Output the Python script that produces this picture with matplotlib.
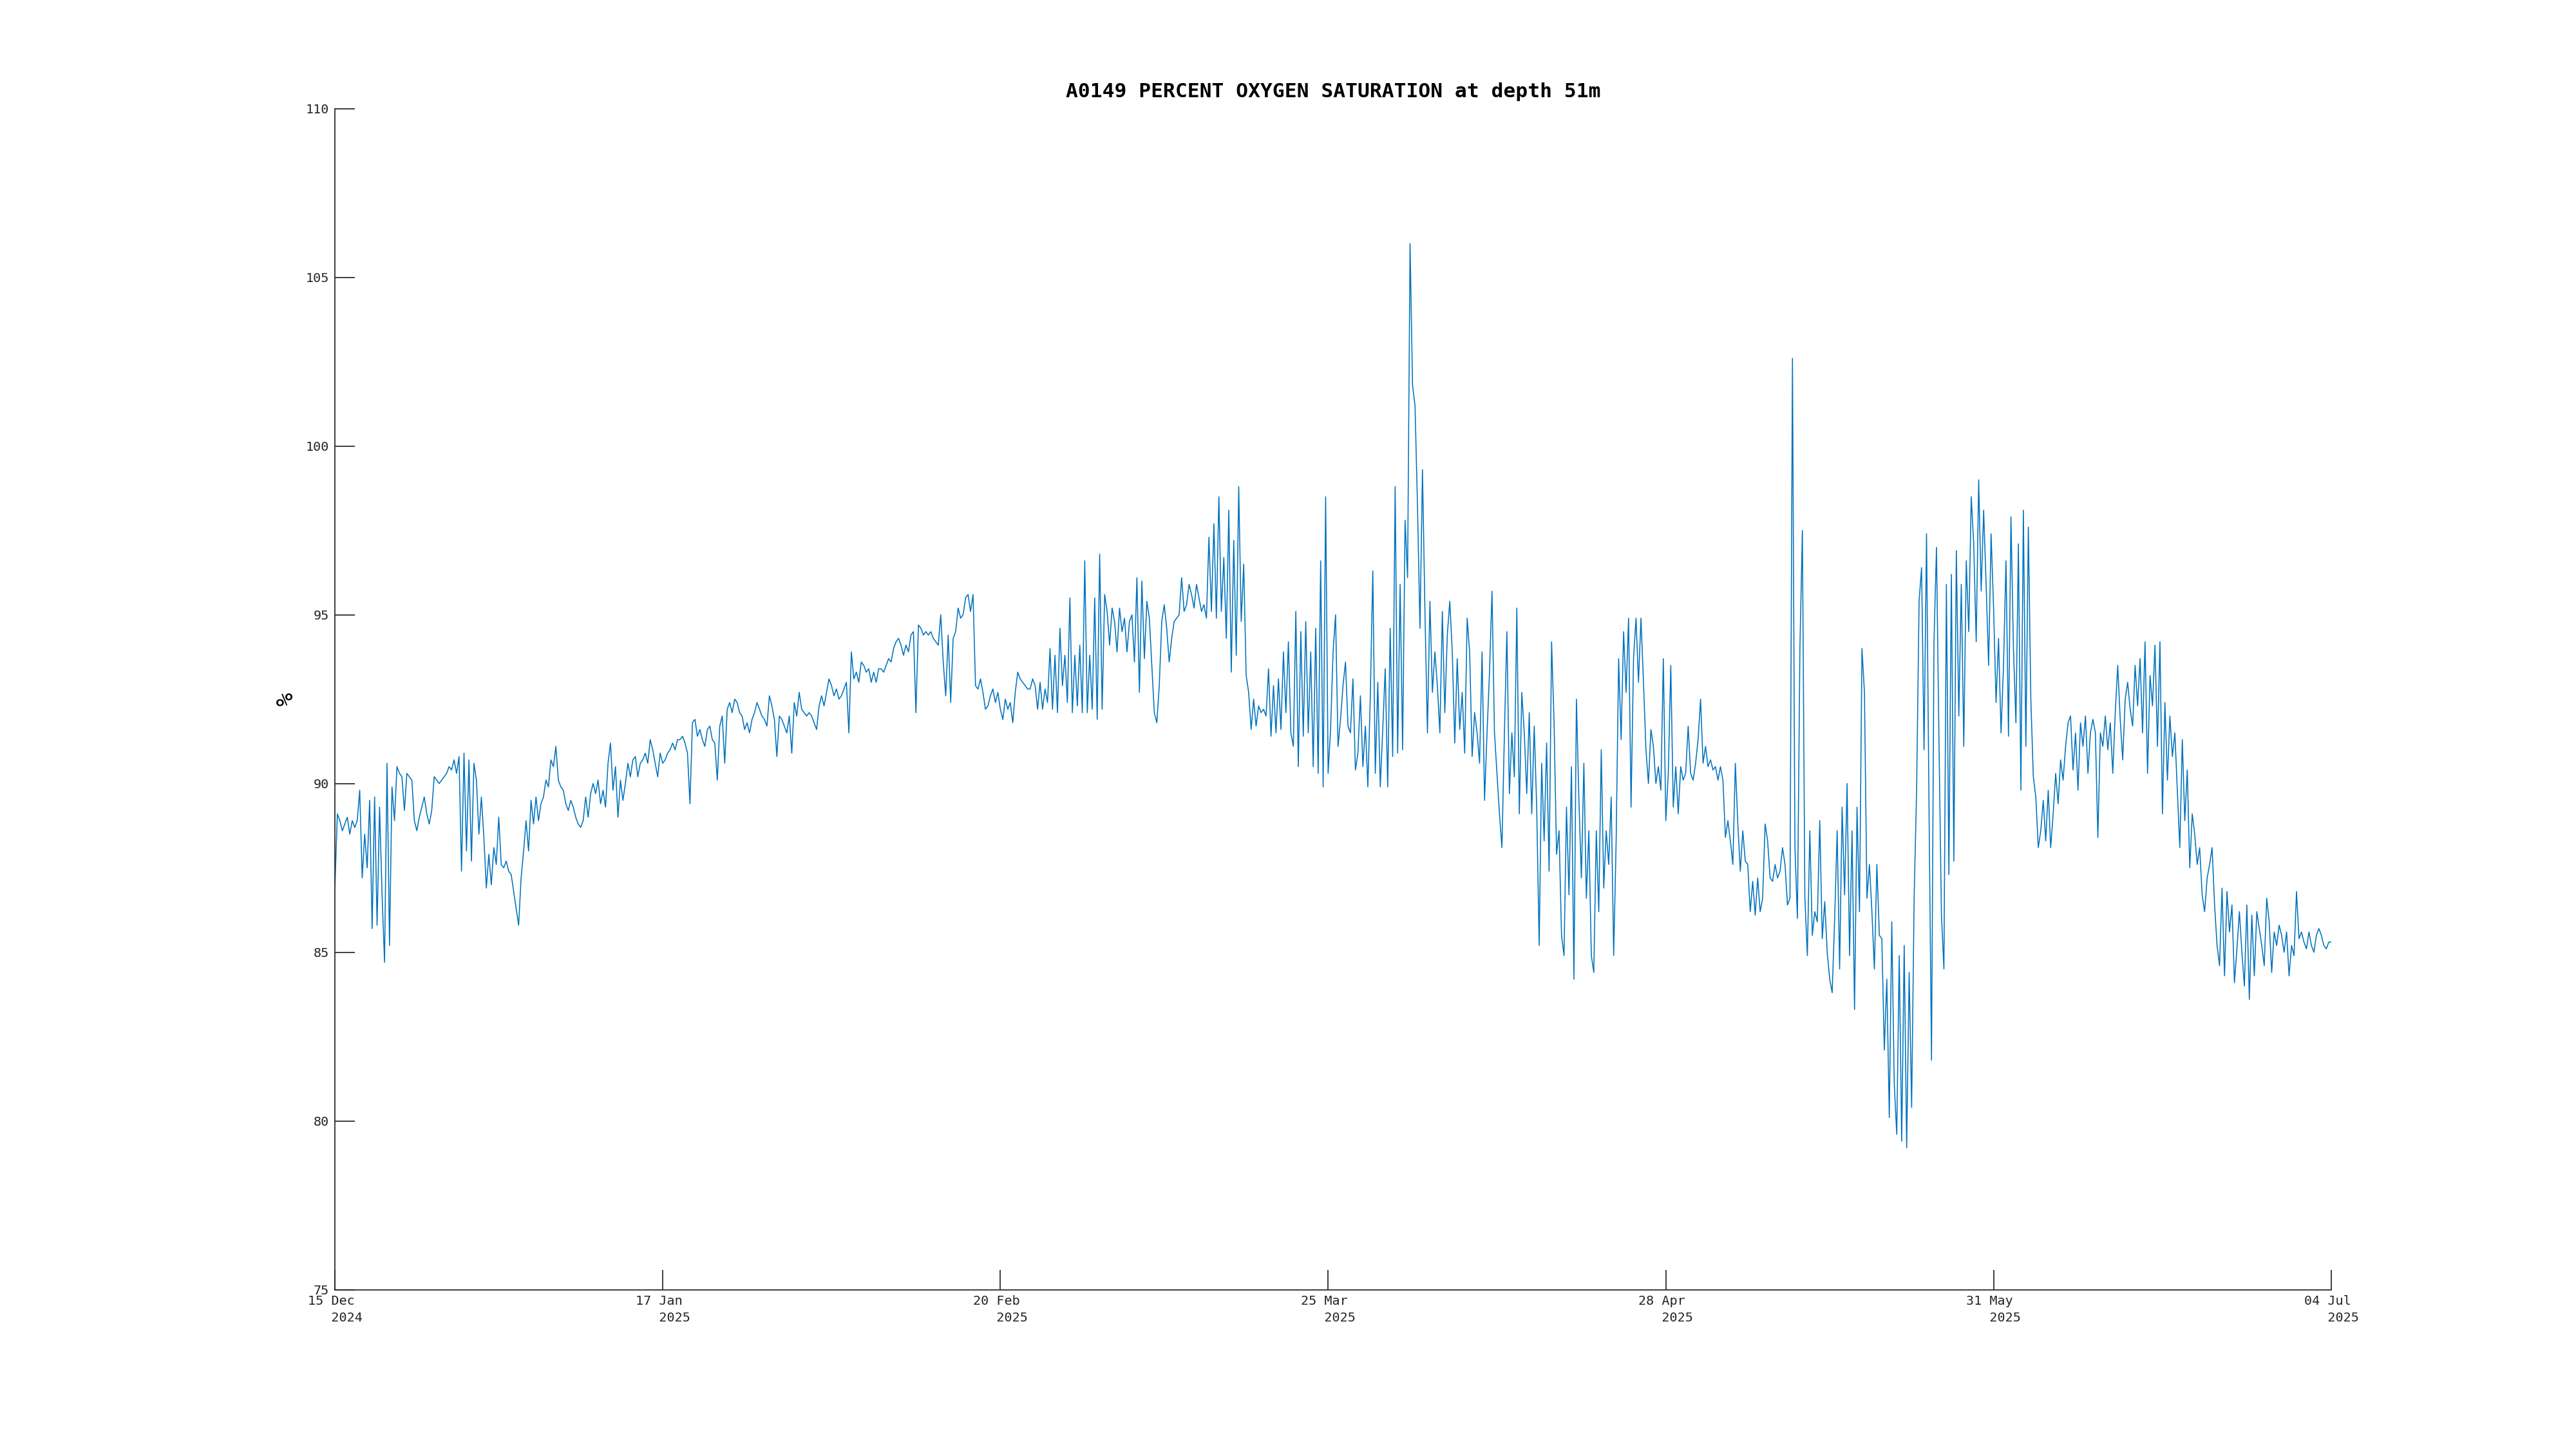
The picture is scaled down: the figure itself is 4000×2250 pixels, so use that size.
import numpy as np
import pandas as pd
import matplotlib
matplotlib.use("Agg")
import matplotlib.pyplot as plt

# percent oxygen saturation at 6-hourly steps from 15 Dec 2024 00:00
dec_vals = [
    86.9, 89.1, 88.9, 88.6, 88.8, 89.0, 88.5, 88.9, 88.7, 88.9, 89.8, 87.2,
    88.5, 87.5, 89.5, 85.7, 89.6, 85.8, 89.3, 86.7, 84.7, 90.6, 85.2, 89.9,
    88.9, 90.5, 90.3, 90.2, 89.2, 90.3, 90.2, 90.1, 88.9, 88.6, 89.0, 89.3,
    89.6, 89.1, 88.8, 89.2, 90.2, 90.1, 90.0, 90.1, 90.2, 90.3, 90.5, 90.4,
    90.7, 90.3, 90.8, 87.4, 90.9, 88.0, 90.7, 87.7, 90.6, 90.1, 88.5, 89.6,
    88.4, 86.9, 87.9, 87.0, 88.1, 87.6, 89.0, 87.6,
]
jan_vals = [
    87.5, 87.7, 87.4, 87.3, 86.8, 86.3, 85.8, 87.2, 88.0, 88.9, 88.0, 89.5,
    88.8, 89.6, 88.9, 89.4, 89.6, 90.1, 89.9, 90.7, 90.5, 91.1, 90.1, 89.9,
    89.8, 89.4, 89.2, 89.5, 89.3, 89.0, 88.8, 88.7, 88.9, 89.6, 89.0, 89.7,
    90.0, 89.7, 90.1, 89.4, 89.8, 89.3, 90.6, 91.2, 89.8, 90.5, 89.0, 90.1,
    89.5, 90.0, 90.6, 90.2, 90.7, 90.8, 90.2, 90.6, 90.7, 90.9, 90.6, 91.3,
    91.0, 90.6, 90.2, 90.9, 90.6, 90.7, 90.9, 91.0, 91.2, 91.0, 91.3, 91.3,
    91.4, 91.2, 90.9, 89.4, 91.8, 91.9, 91.4, 91.6, 91.3, 91.1, 91.6, 91.7,
    91.3, 91.2, 90.1, 91.7, 92.0, 90.6, 92.2, 92.4, 92.1, 92.5, 92.4, 92.1,
    92.0, 91.6, 91.8, 91.5, 91.9, 92.1, 92.4, 92.2, 92.0, 91.9, 91.7, 92.6,
    92.3, 91.9, 90.8, 92.0, 91.9, 91.7, 91.5, 92.0, 90.9, 92.4, 92.0, 92.7,
    92.2, 92.1, 92.0, 92.1,
]
feb_vals = [
    92.0, 91.8, 91.6, 92.3, 92.6, 92.3, 92.7, 93.1, 92.9, 92.6, 92.8, 92.5,
    92.6, 92.8, 93.0, 91.5, 93.9, 93.1, 93.3, 93.0, 93.6, 93.5, 93.3, 93.4,
    93.0, 93.3, 93.0, 93.4, 93.4, 93.3, 93.5, 93.7, 93.6, 94.0, 94.2, 94.3,
    94.1, 93.8, 94.1, 93.9, 94.4, 94.5, 92.1, 94.7, 94.6, 94.4, 94.5, 94.4,
    94.5, 94.3, 94.2, 94.1, 95.0, 93.6, 92.6, 94.4, 92.4, 94.3, 94.5, 95.2,
    94.9, 95.0, 95.5, 95.6, 95.1, 95.6, 92.9, 92.8, 93.1, 92.7, 92.2, 92.3,
    92.6, 92.8, 92.4, 92.7, 92.2, 91.9, 92.5, 92.2, 92.4, 91.8, 92.7, 93.3,
    93.1, 93.0, 92.9, 92.8, 92.8, 93.1, 92.9, 92.2, 93.0, 92.2, 92.8, 92.4,
    94.0, 92.2, 93.8, 92.1, 94.6, 92.9, 93.8, 92.4, 95.5, 92.1, 93.8, 92.3,
    94.1, 92.1, 96.6, 92.1,
]
mar_vals = [
    93.8, 92.2, 95.5, 91.9, 96.8, 92.2, 95.6, 95.1, 94.1, 95.2, 94.8, 93.9,
    95.2, 94.5, 94.9, 93.9, 94.8, 95.0, 93.6, 96.1, 92.7, 96.0, 93.7, 95.4,
    94.9, 93.5, 92.1, 91.8, 92.9, 94.8, 95.3, 94.6, 93.6, 94.3, 94.8, 94.9,
    95.0, 96.1, 95.1, 95.3, 95.9, 95.6, 95.2, 95.9, 95.5, 95.1, 95.3, 94.9,
    97.3, 95.1, 97.7, 94.9, 98.5, 95.1, 96.7, 94.3, 98.1, 93.3, 97.2, 93.8,
    98.8, 94.8, 96.5, 93.2, 92.7, 91.6, 92.5, 91.7, 92.3, 92.1, 92.2, 92.0,
    93.4, 91.4, 92.9, 91.5, 93.1, 91.6, 93.9, 92.1, 94.2, 91.5, 91.1, 95.1,
    90.5, 94.5, 91.4, 94.8, 91.5, 93.9, 90.5, 94.6, 90.3, 96.6, 89.9, 98.5,
    90.3, 91.6, 93.9, 95.0, 91.1, 91.9, 92.9, 93.6, 91.7, 91.5, 93.1, 90.4,
    90.9, 92.6, 90.5, 91.7, 89.9, 92.6, 96.3, 90.3, 93.0, 89.9, 91.6, 93.4,
    89.9, 94.6, 90.8, 98.8,
]
apr_vals = [
    90.9, 95.9, 91.0, 97.8, 96.1, 106.0, 101.8, 101.2, 98.2, 94.6, 99.3, 95.1,
    91.5, 95.4, 92.7, 93.9, 92.9, 91.5, 95.1, 92.1, 94.4, 95.4, 93.9, 91.2,
    93.7, 91.6, 92.7, 90.9, 94.9, 93.9, 90.8, 92.1, 91.5, 90.6, 93.9, 89.5,
    91.5, 93.3, 95.7, 91.5, 90.3, 89.1, 88.1, 91.5, 94.5, 89.7, 91.5, 90.2,
    95.2, 89.1, 92.7, 91.5, 89.7, 92.1, 89.1, 91.7, 89.3, 85.2, 90.6, 88.3,
    91.2, 87.4, 94.2, 91.8, 87.9, 88.6, 85.5, 84.9, 89.3, 86.7, 90.5, 84.2,
    92.5, 89.5, 87.2, 90.6, 86.6, 88.6, 84.9, 84.4, 88.6, 86.2, 91.0, 86.9,
    88.6, 87.6, 89.6, 84.9, 88.3, 93.7, 91.3, 94.5, 92.7, 94.9, 89.3, 93.7,
    94.9, 93.0, 94.9, 93.0, 91.0, 90.0, 91.6, 91.1, 90.0, 90.5, 89.8, 93.7,
    88.9, 90.3, 93.5, 89.3, 90.5, 89.1, 90.5, 90.1, 90.3, 91.7, 90.3, 90.1,
]
may_vals = [
    90.6, 91.3, 92.5, 90.6, 91.1, 90.5, 90.7, 90.4, 90.5, 90.1, 90.5, 90.1,
    88.4, 88.9, 88.3, 87.6, 90.6, 88.8, 87.4, 88.6, 87.7, 87.6, 86.2, 87.1,
    86.1, 87.2, 86.2, 86.6, 88.8, 88.3, 87.2, 87.1, 87.6, 87.2, 87.4, 88.1,
    87.6, 86.4, 86.6, 102.6, 88.1, 86.0, 94.0, 97.5, 86.6, 84.9, 88.6, 85.5,
    86.2, 85.9, 88.9, 85.4, 86.5, 85.0, 84.2, 83.8, 86.0, 88.6, 84.5, 89.3,
    86.7, 90.0, 84.9, 88.6, 83.3, 89.3, 86.2, 94.0, 92.7, 86.6, 87.6, 86.2,
    84.5, 87.6, 85.5, 85.4, 82.1, 84.2, 80.1, 85.9, 81.1, 79.6, 84.9, 79.4,
    85.2, 79.2, 84.4, 80.4, 86.6, 89.8, 95.4, 96.4, 91.0, 97.4, 89.3, 81.8,
    94.2, 97.0, 91.3, 86.1, 84.5, 95.9, 87.3, 96.2, 87.7, 96.9, 92.0, 95.9,
    91.1, 96.6, 94.5, 98.5, 97.1, 94.2, 99.0, 95.7, 98.1, 95.9, 93.5, 97.4,
    95.2, 92.4, 94.3, 91.5,
]
jun_vals = [
    93.5, 96.6, 91.4, 97.9, 94.0, 91.8, 97.1, 89.8, 98.1, 91.1, 97.6, 92.5,
    90.2, 89.6, 88.1, 88.6, 89.5, 88.3, 89.8, 88.1, 89.1, 90.3, 89.4, 90.7,
    90.1, 91.1, 91.8, 92.0, 90.4, 91.5, 89.8, 91.8, 91.1, 92.0, 90.3, 91.5,
    91.9, 91.5, 88.4, 91.5, 91.1, 92.0, 91.0, 91.8, 90.3, 92.1, 93.5, 91.9,
    90.7, 92.5, 93.0, 92.2, 91.7, 93.5, 92.3, 93.7, 91.5, 94.2, 90.3, 93.2,
    92.3, 94.1, 91.1, 94.2, 89.1, 92.4, 90.1, 92.0, 90.8, 91.5, 89.8, 88.1,
    91.3, 88.9, 90.4, 87.5, 89.1, 88.5, 87.6, 88.1, 86.7, 86.2, 87.2, 87.6,
    88.1, 86.4, 85.2, 84.6, 86.9, 84.3, 86.8, 85.6, 86.4, 84.1, 85.1, 86.2,
    85.0, 84.0, 86.4, 83.6, 86.1, 84.3, 86.2, 85.7, 85.2, 84.6, 86.6, 85.9,
    84.4, 85.6, 85.2, 85.8, 85.5, 85.0, 85.6, 84.3, 85.2, 84.9, 86.8, 85.4,
]
jul_vals = [
    85.6, 85.3, 85.1, 85.6, 85.2, 85.0, 85.5, 85.7, 85.5, 85.2, 85.1, 85.3,
    85.3,
]

tick_dates = ["2024-12-15", "2025-01-17", "2025-02-20", "2025-03-25",
              "2025-04-28", "2025-05-31", "2025-07-04"]
tick_labels = ["15 Dec\n   2024", "17 Jan\n   2025", "20 Feb\n   2025",
               "25 Mar\n   2025", "28 Apr\n   2025", "31 May\n   2025",
               "04 Jul\n   2025"]

title = "A0149 PERCENT OXYGEN SATURATION at depth 51m"


def main():
    values = dec_vals + jan_vals + feb_vals + mar_vals + apr_vals + may_vals + jun_vals + jul_vals
    times = pd.date_range("2024-12-15", periods=len(values), freq="6h")

    plt.rcParams['font.family'] = ['DejaVu Sans Mono']
    fig = plt.figure(figsize=(16, 9), dpi=250)
    ax = fig.add_axes([0.13, 0.11, 0.775, 0.815])

    ax.plot(times, values, color="#0072BD", linewidth=0.45)

    ax.set_xlim(pd.Timestamp(tick_dates[0]), pd.Timestamp(tick_dates[-1]))
    ax.set_ylim(75, 110)
    ax.set_yticks(np.arange(75, 111, 5))
    ax.set_xticks([pd.Timestamp(d) for d in tick_dates])
    ax.set_xticklabels(tick_labels)
    for lab in ax.get_xticklabels():
        lab.set_multialignment("left")
        lab.set_linespacing(1.45)

    dark = "#262626"
    for side in ["top", "right"]:
        ax.spines[side].set_visible(False)
    for side in ["left", "bottom"]:
        ax.spines[side].set_color(dark)
        ax.spines[side].set_linewidth(0.5)
    ax.tick_params(axis="both", direction="in", length=8.9, width=0.5,
                   colors=dark, labelsize=5.8, pad=2.5)

    ax.set_title(title, fontsize=9, fontweight="bold", color="black", pad=5)
    ax.set_ylabel("%", fontsize=10, color="black", labelpad=4)

    fig.savefig("out.png", dpi=250, facecolor="white")


if __name__ == "__main__":
    main()
